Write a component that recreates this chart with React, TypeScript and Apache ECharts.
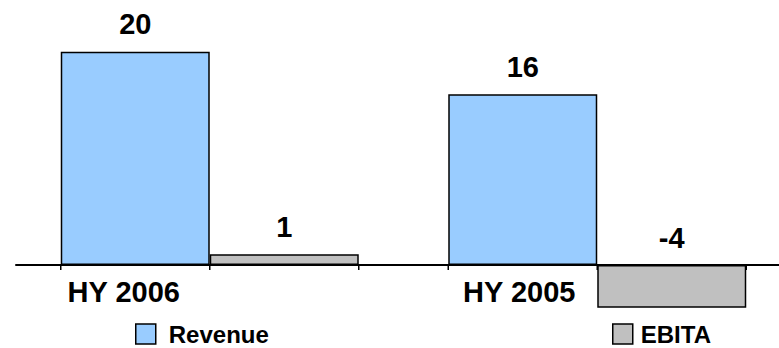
import React, { useEffect, useRef } from "react";
import * as echarts from "echarts";

// Half-year figures
const categories = ["HY 2006", "HY 2005"];
const revenue = [20, 16];
const ebita = [1, -4];
const seriesNames = ["Revenue", "EBITA"];

const FONT = "'Liberation Sans', Arial, Helvetica, sans-serif";
const BAR_W = 149;

export default function App() {
  const ref = useRef<HTMLDivElement>(null);

  useEffect(() => {
    if (!ref.current) return;
    const chart = echarts.init(ref.current, null, { renderer: "svg" });

    const labelStyle = {
      show: true,
      position: "top" as const,
      distance: 13,
      color: "#000",
      fontFamily: FONT,
      fontWeight: "bold" as const,
      fontSize: 29,
    };

    const legendBase = {
      top: 322,
      padding: 0,
      itemWidth: 20,
      itemHeight: 20,
      icon: "rect",
      itemStyle: { borderColor: "#000", borderWidth: 1.5 },
    };
    const legendText = {
      color: "#000",
      fontFamily: FONT,
      fontWeight: "bold" as const,
      fontSize: 24,
      lineHeight: 20,
    };

    const catLabel = (padRight: number) => ({
      color: "#000",
      fontFamily: FONT,
      fontWeight: "bold",
      fontSize: 29,
      padding: [0, padRight, 0, 0],
    });

    chart.setOption({
      animation: false,
      backgroundColor: "#fff",
      // the plot's lower edge sits on the zero line; negative bars hang below it
      grid: { left: 16, right: -12, top: 9, height: 256, outerBoundsMode: "none" },
      legend: [
        {
          ...legendBase,
          data: [seriesNames[0]],
          left: 135,
          textStyle: { ...legendText, padding: [0, 0, 0, 8] },
        },
        {
          ...legendBase,
          data: [seriesNames[1]],
          left: 612,
          textStyle: { ...legendText, padding: [0, 0, 0, 3] },
        },
      ],
      xAxis: {
        type: "category",
        data: categories,
        axisLine: { lineStyle: { color: "#000", width: 2 } },
        axisTick: { show: false },
        axisLabel: {
          margin: 12,
          interval: 0,
          hideOverlap: false,
          formatter: (v: string) => (v === categories[0] ? `{a|${v}}` : `{b|${v}}`),
          rich: { a: catLabel(172), b: catLabel(156) },
        },
      },
      yAxis: {
        type: "value",
        min: 0,
        max: 24,
        show: false,
        splitLine: { show: false },
      },
      series: [
        {
          name: seriesNames[0],
          type: "bar",
          data: revenue,
          barWidth: BAR_W,
          barGap: "0%",
          clip: false,
          itemStyle: { color: "#99CCFF", borderColor: "#000", borderWidth: 1.5 },
          label: labelStyle,
          z: 3,
        },
        {
          name: seriesNames[1],
          type: "bar",
          data: ebita,
          barWidth: BAR_W,
          barGap: "0%",
          clip: false,
          itemStyle: { color: "#C0C0C0", borderColor: "#000", borderWidth: 1.5 },
          label: labelStyle,
          z: 3,
        },
        {
          // small tick marks below the axis at each bar edge
          type: "custom",
          data: categories.map((_, i) => [i, 0]),
          silent: true,
          clip: false,
          z: 1,
          renderItem: (params: any, api: any) => {
            const c = api.coord([api.value(0), 0]);
            const xs = [c[0] - BAR_W, c[0], c[0] + BAR_W];
            return {
              type: "group",
              children: xs.map((x) => ({
                type: "line",
                shape: { x1: x, y1: c[1], x2: x, y2: c[1] + 5 },
                style: { stroke: "#000", lineWidth: 1.5 },
              })),
            };
          },
        },
      ],
    });

    return () => chart.dispose();
  }, []);

  return (
    <div
      ref={ref}
      style={{ position: "fixed", left: 0, top: 0, width: 779, height: 348 }}
    />
  );
}
